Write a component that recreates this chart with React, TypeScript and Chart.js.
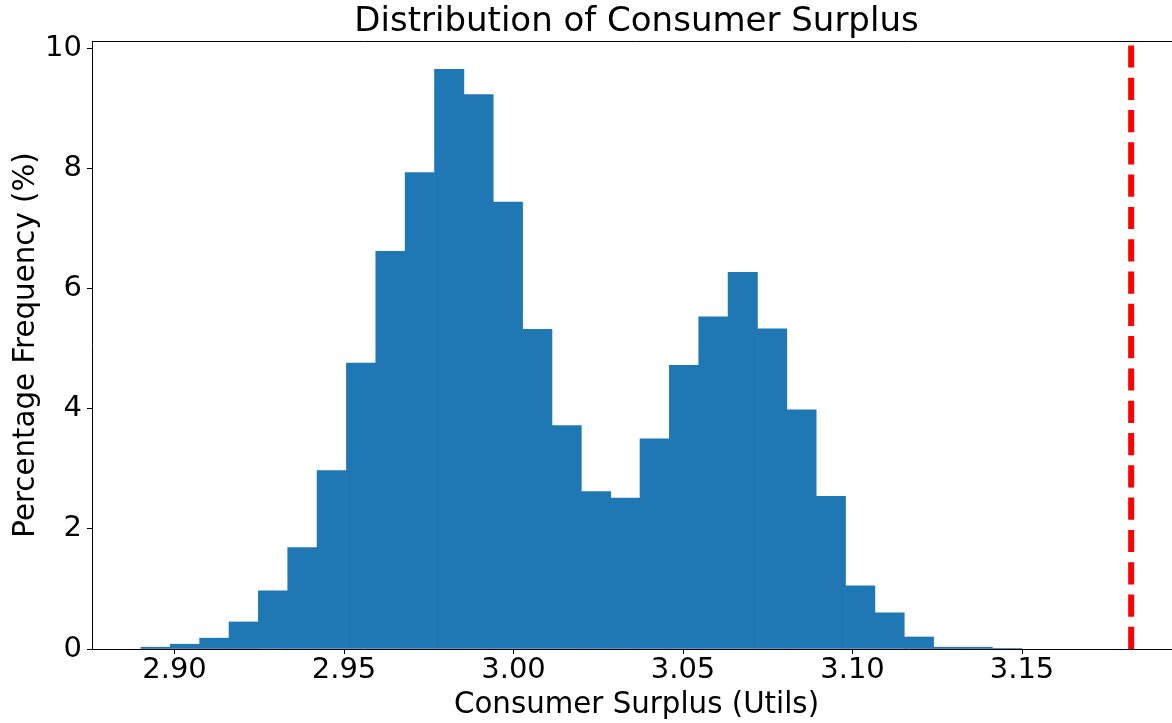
import React, { useEffect, useRef } from "react";
import { Chart, registerables } from "chart.js";

Chart.register(...registerables);

// Histogram bin centres (Consumer Surplus, Utils)
const binCenters = [
  2.89443, 2.90309, 2.91175, 2.92041, 2.92907, 2.93773, 2.94639, 2.95505,
  2.96371, 2.97237, 2.98103, 2.98969, 2.99835, 3.00701, 3.01567, 3.02433,
  3.03299, 3.04165, 3.05031, 3.05897, 3.06763, 3.07629, 3.08495, 3.09361,
  3.10227, 3.11093, 3.11959, 3.12825, 3.13691, 3.14557,
];

// Percentage frequency per bin
const percentFreq = [
  0.03, 0.08, 0.18, 0.45, 0.97, 1.69, 2.97, 4.76, 6.62, 7.93, 9.65, 9.23,
  7.44, 5.32, 3.72, 2.62, 2.51, 3.5, 4.72, 5.53, 6.27, 5.33, 3.98, 2.54,
  1.05, 0.6, 0.2, 0.03, 0.03, 0.01,
];

// Reference value (red dashed vertical line)
const referenceValue = [3.1822];

const xTickValues = [2.9, 2.95, 3.0, 3.05, 3.1, 3.15];
const yTickValues = [0, 2, 4, 6, 8, 10];

const X_MIN = 2.87566;
const X_MAX = 3.1969;
const Y_MAX = 10.12;

const FONT = "DejaVu Sans";

const frame = {
  id: "frameTop",
  afterDraw(chart: any) {
    const { ctx, chartArea } = chart;
    ctx.save();
    ctx.strokeStyle = "#000";
    ctx.lineWidth = 1;
    ctx.beginPath();
    ctx.moveTo(chartArea.left, chartArea.top + 0.5);
    ctx.lineTo(chartArea.right, chartArea.top + 0.5);
    ctx.moveTo(chartArea.right - 0.5, chartArea.top);
    ctx.lineTo(chartArea.right - 0.5, chartArea.bottom);
    ctx.stroke();
    ctx.restore();
  },
};

export default function App() {
  const ref = useRef<HTMLCanvasElement | null>(null);

  useEffect(() => {
    if (!ref.current) return;
    const chart = new Chart(ref.current, {
      type: "bar",
      data: {
        datasets: [
          {
            type: "line",
            data: [
              { x: referenceValue[0], y: 0 },
              { x: referenceValue[0], y: Y_MAX },
            ],
            borderColor: "#ff0000",
            borderWidth: 6,
            borderDash: [22.2, 10.1],
            pointRadius: 0,
            fill: false,
          } as any,
          {
            type: "bar",
            data: binCenters.map((c, i) => ({ x: c, y: percentFreq[i] })),
            backgroundColor: "#1f77b4",
            borderWidth: 0,
            barPercentage: 1,
            categoryPercentage: 1,
          } as any,
        ],
      },
      options: {
        animation: false,
        responsive: false,
        devicePixelRatio: 1,
        layout: { padding: { left: 0, right: 1, top: 0, bottom: 0 } },
        plugins: {
          legend: { display: false },
          tooltip: { enabled: false },
          title: {
            display: true,
            text: "Distribution of Consumer Surplus",
            fullSize: false,
            color: "#000",
            font: { family: FONT, size: 34, weight: "normal", lineHeight: 1 },
            padding: { top: 5.5, bottom: 1.5 },
          },
        },
        scales: {
          x: {
            type: "linear",
            min: X_MIN,
            max: X_MAX,
            offset: false,
            afterBuildTicks: (s: any) => {
              s.ticks = xTickValues.map((v) => ({ value: v }));
            },
            afterFit: (s: any) => {
              s.height = 74;
            },
            grid: {
              display: true,
              drawOnChartArea: false,
              drawTicks: true,
              tickLength: 5,
              color: "#000",
              offset: false,
            },
            border: { display: true, color: "#000", width: 1 },
            ticks: {
              color: "#000",
              font: { family: FONT, size: 29, lineHeight: 1 },
              padding: 1.5,
              maxRotation: 0,
              autoSkip: false,
              callback: (v: any) => Number(v).toFixed(2),
            },
            title: {
              display: true,
              text: "Consumer Surplus (Utils)",
              color: "#000",
              font: { family: FONT, size: 29.3, lineHeight: 1 },
              padding: { top: 0, bottom: 2.8 },
            },
          },
          y: {
            type: "linear",
            min: 0,
            max: Y_MAX,
            afterBuildTicks: (s: any) => {
              s.ticks = yTickValues.map((v) => ({ value: v }));
            },
            afterFit: (s: any) => {
              s.width = 92;
            },
            grid: {
              display: true,
              drawOnChartArea: false,
              drawTicks: true,
              tickLength: 5,
              color: "#000",
            },
            border: { display: true, color: "#000", width: 1 },
            ticks: {
              color: "#000",
              font: { family: FONT, size: 29, lineHeight: 1 },
              padding: 5,
              autoSkip: false,
              callback: (v: any) => String(v),
            },
            title: {
              display: true,
              text: "Percentage Frequency (%)",
              color: "#000",
              font: { family: FONT, size: 29.3, lineHeight: 1 },
              padding: { top: 11.5, bottom: 0 },
            },
          },
        },
      },
      plugins: [frame],
    });
    return () => chart.destroy();
  }, []);

  return (
    <div
      style={{
        position: "absolute",
        left: 0,
        top: 0,
        width: 1172,
        height: 723,
        overflow: "hidden",
        background: "#fff",
      }}
    >
      <canvas ref={ref} width={1182} height={723} style={{ display: "block" }} />
    </div>
  );
}
